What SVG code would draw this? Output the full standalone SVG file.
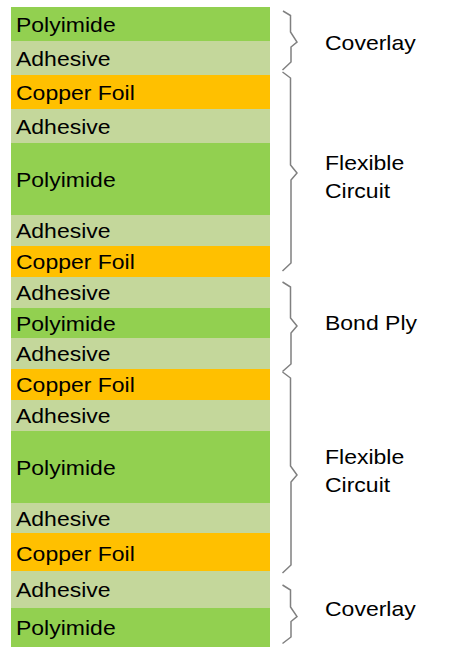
<svg xmlns="http://www.w3.org/2000/svg" width="457" height="657" viewBox="0 0 457 657">
<style>
.pi{fill:#92D050}.ad{fill:#C4D79B}.cu{fill:#FFC000}
text{font-family:"Liberation Sans",Arial,sans-serif;font-size:21px;fill:#000}
.br{fill:none;stroke:#808080;stroke-width:1.5;stroke-linejoin:miter}
</style>
<rect width="457" height="657" fill="#fff"/>
<g id="layers">
<g id="l1"><rect class="pi" x="11" y="7" width="259" height="34"/><text transform="matrix(1.095 0 0 1 16 31.5)">Polyimide</text></g>
<g id="l2"><rect class="ad" x="11" y="41" width="259" height="34"/><text transform="matrix(1.095 0 0 1 16 65.5)">Adhesive</text></g>
<g id="l3"><rect class="cu" x="11" y="75" width="259" height="34"/><text transform="matrix(1.095 0 0 1 16 99.5)">Copper Foil</text></g>
<g id="l4"><rect class="ad" x="11" y="109" width="259" height="34"/><text transform="matrix(1.095 0 0 1 16 133.5)">Adhesive</text></g>
<g id="l5"><rect class="pi" x="11" y="143" width="259" height="72"/><text transform="matrix(1.095 0 0 1 16 186.5)">Polyimide</text></g>
<g id="l6"><rect class="ad" x="11" y="215" width="259" height="31"/><text transform="matrix(1.095 0 0 1 16 238)">Adhesive</text></g>
<g id="l7"><rect class="cu" x="11" y="246" width="259" height="31"/><text transform="matrix(1.095 0 0 1 16 269)">Copper Foil</text></g>
<g id="l8"><rect class="ad" x="11" y="277" width="259" height="31"/><text transform="matrix(1.095 0 0 1 16 300)">Adhesive</text></g>
<g id="l9"><rect class="pi" x="11" y="308" width="259" height="30"/><text transform="matrix(1.095 0 0 1 16 330.5)">Polyimide</text></g>
<g id="l10"><rect class="ad" x="11" y="338" width="259" height="31"/><text transform="matrix(1.095 0 0 1 16 361)">Adhesive</text></g>
<g id="l11"><rect class="cu" x="11" y="369" width="259" height="31"/><text transform="matrix(1.095 0 0 1 16 392)">Copper Foil</text></g>
<g id="l12"><rect class="ad" x="11" y="400" width="259" height="31"/><text transform="matrix(1.095 0 0 1 16 423)">Adhesive</text></g>
<g id="l13"><rect class="pi" x="11" y="431" width="259" height="72"/><text transform="matrix(1.095 0 0 1 16 474.5)">Polyimide</text></g>
<g id="l14"><rect class="ad" x="11" y="503" width="259" height="30"/><text transform="matrix(1.095 0 0 1 16 525.5)">Adhesive</text></g>
<g id="l15"><rect class="cu" x="11" y="533" width="259" height="38"/><text transform="matrix(1.095 0 0 1 16 560.5)">Copper Foil</text></g>
<g id="l16"><rect class="ad" x="11" y="571" width="259" height="37"/><text transform="matrix(1.095 0 0 1 16 597)">Adhesive</text></g>
<g id="l17"><rect class="pi" x="11" y="608" width="259" height="39"/><text transform="matrix(1.095 0 0 1 16 635)">Polyimide</text></g>
</g>
<g id="connectors">
<path class="br" d="M283,11 L290.5,15.5 L290.5,32 L297,42 L291,47 L291,62 L282.5,70"/>
<path class="br" d="M282.5,72 L290.5,78 L290.5,165 L297,173 L291,180 L291,263 L282.5,271"/>
<path class="br" d="M282.5,282 L290.5,287 L290.5,318 L297,326 L291,333 L291,364 L282.5,371.5"/>
<path class="br" d="M282.5,372 L290.5,378 L290.5,466 L297,475 L291,482 L291,565 L282.5,573"/>
<path class="br" d="M282.5,585 L290.5,590 L290.5,607 L297,616.5 L291,621.5 L291,637 L282.5,643.5"/>
</g>
<g id="labels">
<g id="g1"><text transform="matrix(1.095 0 0 1 325 50)">Coverlay</text></g>
<g id="g2"><text transform="matrix(1.095 0 0 1 325 169.5)">Flexible</text><text transform="matrix(1.095 0 0 1 325 198)">Circuit</text></g>
<g id="g3"><text transform="matrix(1.095 0 0 1 325 330)">Bond Ply</text></g>
<g id="g4"><text transform="matrix(1.095 0 0 1 325 464)">Flexible</text><text transform="matrix(1.095 0 0 1 325 492)">Circuit</text></g>
<g id="g5"><text transform="matrix(1.095 0 0 1 325 616)">Coverlay</text></g>
</g>
</svg>
